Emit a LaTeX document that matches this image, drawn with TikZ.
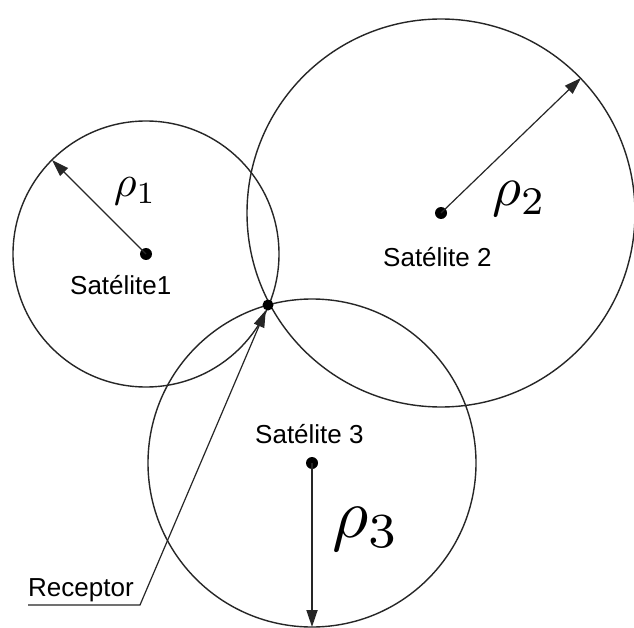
\documentclass[tikz,border=0pt]{standalone}
\usepackage{fontspec}
\newfontfamily\arialf{Liberation Sans}
\usetikzlibrary{arrows.meta}
\tikzset{
  ring/.style={draw=black!85, line width=1.4pt},
  dot/.style={circle, fill=black, inner sep=0pt, minimum size=12pt},
  arr/.style={draw=black!85, line width=1.2pt, -{Triangle[length=17pt,width=11pt]}},
  lbl/.style={font=\arialf\fontsize{26}{30}\selectfont, inner sep=0pt, anchor=base west},
  rho/.style={inner sep=0pt, anchor=base west, font=\fontsize{10}{12}\selectfont},
}
\begin{document}
\begin{tikzpicture}[x=1pt,y=-1pt]
\useasboundingbox[fill=white] (0,0) rectangle (634,628);
% circles
\coordinate (c1) at (146,254);
\coordinate (c2) at (441,213);
\coordinate (c3) at (312,463);
\draw[ring] (c1) circle[radius=133pt];
\draw[ring] (c2) circle[radius=194pt];
\draw[ring] (c3) circle[radius=164pt];
% centres
\node[dot] (s1) at (c1) {};
\node[dot] (s2) at (c2) {};
\node[dot] (s3) at (c3) {};
\node[dot, minimum size=11pt] (recv) at (268,305) {};
% radius arrows
\coordinate (t1) at (52,160);
\coordinate (t2) at (581,78);
\coordinate (t3) at (312,627);
\draw[arr] (s1.center) -- (t1);
\draw[arr] (s2.center) -- (t2);
\draw[arr, line width=1.8pt] (s3.center) -- (t3);
% rho labels
\node[rho, scale=4.4] (r1) at (113,197) {$\rho_1$};
\node[rho, scale=5.6] (r2) at (491,206) {$\rho_2$};
\node[rho, scale=7.0] (r3) at (331,537) {$\rho_3$};
% satellite labels
\node[lbl] (l1) at (70,294) {Satélite1};
\node[lbl] (l2) at (383,266) {Satélite 2};
\node[lbl] (l3) at (255,443) {Satélite 3};
% receptor
\node[lbl] (rec) at (28,596) {Receptor};
\coordinate (corner) at (140,605);
\draw[arr] (rec.west |- corner) -- (corner) -- (recv);
\end{tikzpicture}
\end{document}
